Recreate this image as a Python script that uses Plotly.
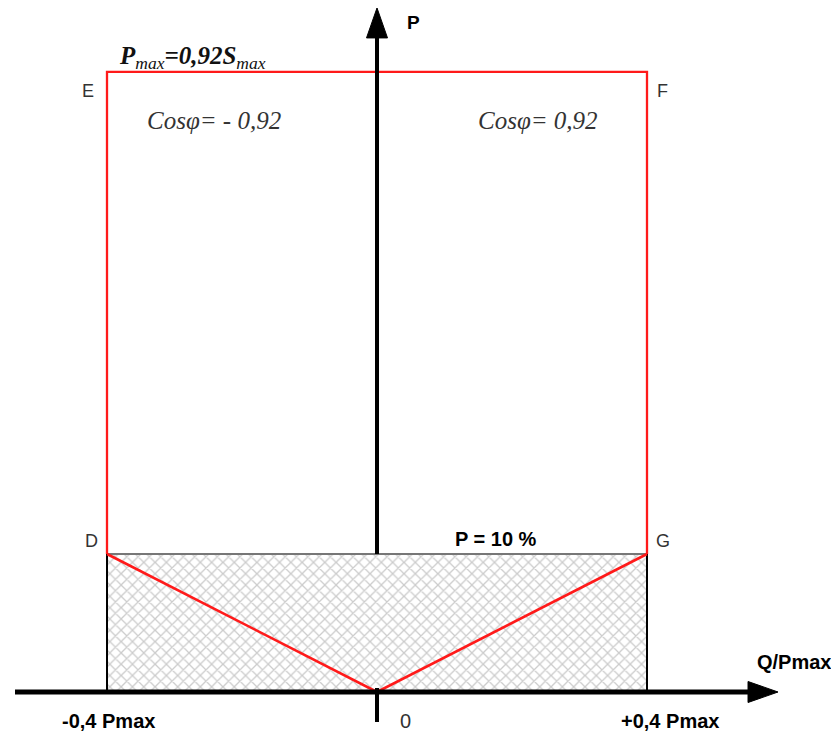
import plotly.graph_objects as go

# ---- schematic data (Q/Pmax on x, P on y; P axis is schematic, not to scale) ----
q_limits = [-0.4, 0.4]          # Q/Pmax limits (D,E on left / F,G on right)
p_low = 0.10                    # P = 10 % line (D-G)
p_top = 0.4493                  # Pmax = 0.92 Smax line (E-F), schematic height
corner_names = ["E", "F", "G", "D"]
corner_q = [-0.4, 0.4, 0.4, -0.4]
corner_p = [p_top, p_top, p_low, p_low]
q_axis_span = [-0.5363, 0.5941]   # drawn extent of Q axis (tail, arrow tip)
p_axis_tip = 0.4957               # arrow tip of P axis
tick_labels = ["-0,4 Pmax", "0", "+0,4 Pmax"]
tick_q = [-0.4, 0.0, 0.4]

# ---- pixel <-> data helpers (page pixels; plot div sits at 8px body margin) ----
SX, X0 = 675.0, 377.0     # px per unit Q, page x of Q=0
SY, Y0 = 1380.0, 692.0    # px per unit P, page y of P=0
def qx(px): return (px - X0) / SX
def py_(py): return (Y0 - py) / SY

RED = "#ff1a1a"
fig = go.Figure()

# hatched area below P = 10 %
fig.add_trace(go.Scatter(
    x=[q_limits[0], q_limits[1], q_limits[1], q_limits[0], q_limits[0]],
    y=[0, 0, p_low, p_low, 0], mode="lines", line=dict(width=0),
    fill="toself", fillcolor="white",
    fillpattern=dict(shape="x", fgcolor="#9a9a9a", bgcolor="white", size=8, solidity=0.3),
    hoverinfo="skip"))

# black verticals from D and G down to the Q axis
for q in q_limits:
    fig.add_trace(go.Scatter(x=[q, q], y=[0, p_low], mode="lines",
                             line=dict(color="black", width=2), hoverinfo="skip"))

# grey P = 10 % line
fig.add_trace(go.Scatter(x=q_limits, y=[p_low, p_low], mode="lines",
                         line=dict(color="#777777", width=2.2), hoverinfo="skip"))

# red rectangle D-E-F-G
fig.add_trace(go.Scatter(x=[corner_q[3], corner_q[0], corner_q[1], corner_q[2]],
                         y=[corner_p[3], corner_p[0], corner_p[1], corner_p[2]],
                         mode="lines", line=dict(color=RED, width=2.3), hoverinfo="skip"))

# red V from D to origin to G
fig.add_trace(go.Scatter(x=[q_limits[0], 0, q_limits[1]], y=[p_low, 0, p_low],
                         mode="lines", line=dict(color=RED, width=2.6), hoverinfo="skip"))

# arrow geometry (pixels)
HEAD_LEN, HEAD_HALF = 30.0, 10.5

# P axis (above hatched zone) and small tick below origin
fig.add_trace(go.Scatter(x=[0, 0], y=[p_low, p_axis_tip - HEAD_LEN / SY + 0.002], mode="lines",
                         line=dict(color="black", width=4), hoverinfo="skip"))
fig.add_trace(go.Scatter(x=[0, 0], y=[py_(688), py_(722)], mode="lines",
                         line=dict(color="black", width=4), hoverinfo="skip"))
# Q axis
fig.add_trace(go.Scatter(x=[q_axis_span[0], q_axis_span[1] - HEAD_LEN / SX + 0.002], y=[0, 0],
                         mode="lines", line=dict(color="black", width=5), hoverinfo="skip"))

# arrow heads as filled triangles
tq = q_axis_span[1]
fig.add_trace(go.Scatter(
    x=[tq, tq - HEAD_LEN / SX, tq - HEAD_LEN / SX, tq],
    y=[0, HEAD_HALF / SY, -HEAD_HALF / SY, 0],
    mode="lines", line=dict(color="black", width=1), fill="toself", fillcolor="black",
    hoverinfo="skip"))
tp = p_axis_tip
fig.add_trace(go.Scatter(
    x=[0, HEAD_HALF / SX, -HEAD_HALF / SX, 0],
    y=[tp, tp - HEAD_LEN / SY, tp - HEAD_LEN / SY, tp],
    mode="lines", line=dict(color="black", width=1), fill="toself", fillcolor="black",
    hoverinfo="skip"))

sans = "Liberation Sans, Arial, sans-serif"
serif = "Liberation Serif, Times New Roman, serif"

annotations = []
# corner letters (page pixel centres)
corner_pos = {"E": (88, 91), "F": (662, 91), "G": (663, 541), "D": (91, 541)}
for n in corner_names:
    cx, cy = corner_pos[n]
    annotations.append(dict(x=qx(cx), y=py_(cy), text=n, showarrow=False,
                            font=dict(family=sans, size=18, color="#333333")))

annotations += [
    dict(x=qx(413), y=py_(22), text="<b>P</b>", showarrow=False,
         font=dict(family=sans, size=19, color="black")),
    dict(x=qx(117), y=py_(57), xanchor="left",
         text="<b><i>P</i></b><sub><i>max</i></sub><b><i>=0,92S</i></b><sub><i>max</i></sub>",
         showarrow=False, font=dict(family=serif, size=25, color="#111111")),
    dict(x=qx(214), y=py_(120), text="<i>Cosφ= - 0,92</i>", showarrow=False,
         font=dict(family=serif, size=25, color="#333333")),
    dict(x=qx(538), y=py_(120), text="<i>Cosφ= 0,92</i>", showarrow=False,
         font=dict(family=serif, size=25, color="#333333")),
    dict(x=qx(496), y=py_(539), text="<b>P = 10 %</b>", showarrow=False,
         font=dict(family=sans, size=20, color="black")),
    dict(x=qx(794), y=py_(662), text="<b>Q/Pmax</b>", showarrow=False,
         font=dict(family=sans, size=20, color="black")),
]
tick_centres = [108, 405, 670]
for lab, cx in zip(tick_labels, tick_centres):
    bold = lab != "0"
    annotations.append(dict(x=qx(cx), y=py_(721), text=f"<b>{lab}</b>" if bold else lab,
                            showarrow=False,
                            font=dict(family=sans, size=20, color="black" if bold else "#333333")))

fig.update_layout(
    width=831, height=728, margin=dict(l=0, r=0, t=0, b=0),
    paper_bgcolor="white", plot_bgcolor="white", showlegend=False,
    xaxis=dict(range=[qx(8), qx(839)], visible=False, fixedrange=True),
    yaxis=dict(range=[py_(736), py_(8)], visible=False, fixedrange=True),
    annotations=annotations,
)
fig.write_html("out.html")
